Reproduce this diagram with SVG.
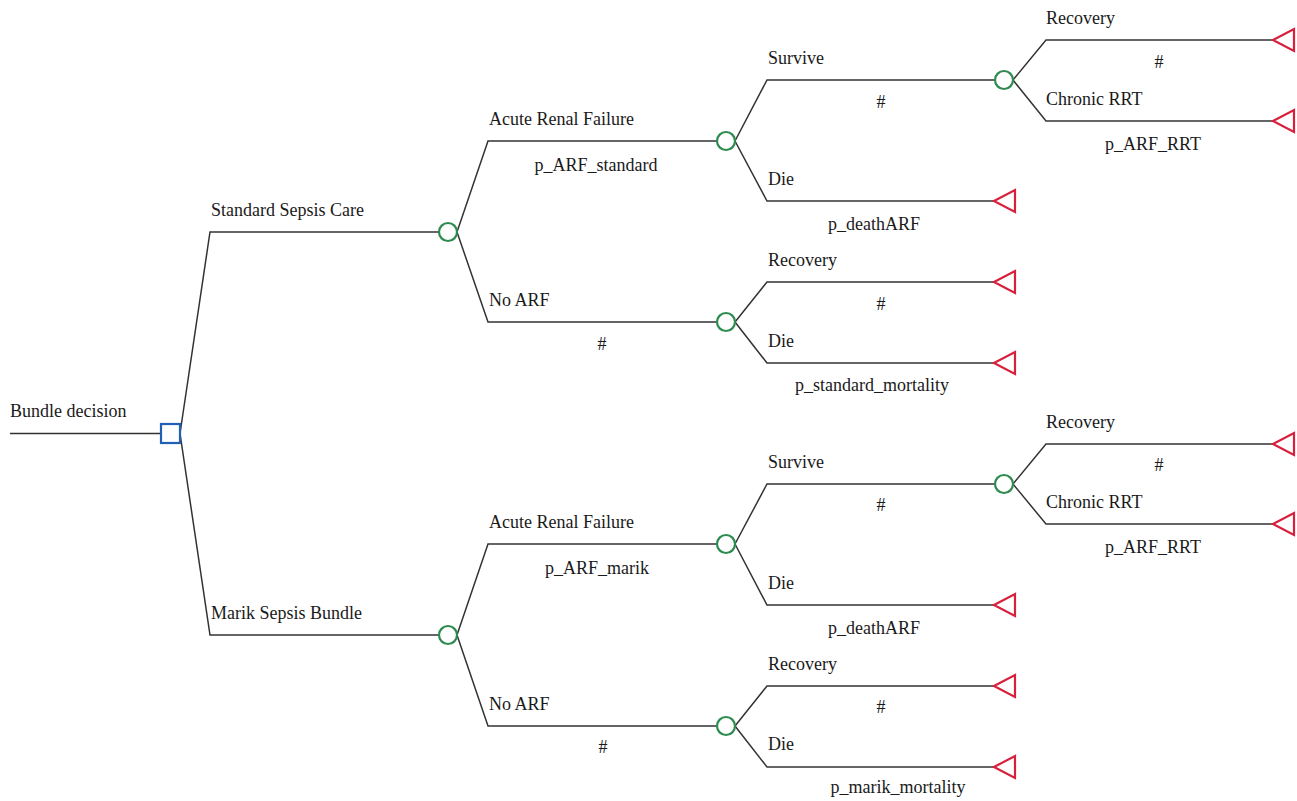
<svg xmlns="http://www.w3.org/2000/svg" width="1297" height="801" viewBox="0 0 1297 801">
<defs>
<style>
text{font-family:"Liberation Serif","Times New Roman",serif;font-size:18px;fill:#1a1a1a}
.m{text-anchor:middle}
.c{fill:none;stroke:#333;stroke-width:1.5}
.ch{fill:#fff;stroke:#2e8b4f;stroke-width:2.2}
.dc{fill:#fff;stroke:#1f5fb4;stroke-width:2.2}
.tm{fill:#fff;stroke:#d8203c;stroke-width:2.2}
</style>
<polygon id="tri" points="0,0 21,-11 21,11"/>
</defs>
<rect width="1297" height="801" fill="#fff"/>
<g id="connectors" class="c">
<path d="M10,433.5H161"/>
<path d="M180,433.5L210,232H439M180,433.5L210,635H439"/>
<path d="M457,232L488,141H717M457,232L488,322H717"/>
<path d="M735,141L767,80H995M735,141L767,201H994"/>
<path d="M735,322L767,282H994M735,322L767,363H994"/>
<path d="M1013,80L1046,40H1273M1013,80L1046,121H1273"/>
<path d="M457,635L488,544H717M457,635L488,726H717"/>
<path d="M735,544L767,484H995M735,544L767,605H994"/>
<path d="M735,726L767,686H994M735,726L767,767H994"/>
<path d="M1013,484L1046,444H1273M1013,484L1046,524H1273"/>
</g>
<g id="root"><text x="10" y="417">Bundle decision</text></g>
<g id="decision"><rect class="dc" x="161" y="424" width="19" height="19"/></g>
<g id="std"><text x="211" y="216">Standard Sepsis Care</text><circle class="ch" cx="448" cy="232" r="9"/></g>
<g id="std_arf"><text x="489" y="125">Acute Renal Failure</text><text class="m" x="596" y="171">p_ARF_standard</text><circle class="ch" cx="726" cy="141" r="9"/></g>
<g id="std_noarf"><text x="489" y="306">No ARF</text><text class="m" x="602" y="350">#</text><circle class="ch" cx="726" cy="322" r="9"/></g>
<g id="std_survive"><text x="768" y="64">Survive</text><text class="m" x="881" y="108">#</text><circle class="ch" cx="1004" cy="80" r="9"/></g>
<g id="std_arf_die"><text x="768" y="185">Die</text><text class="m" x="874" y="230">p_deathARF</text><use href="#tri" class="tm" x="994" y="201"/></g>
<g id="std_rec"><text x="768" y="266">Recovery</text><text class="m" x="881" y="310">#</text><use href="#tri" class="tm" x="994" y="282"/></g>
<g id="std_die"><text x="768" y="347">Die</text><text class="m" x="872" y="391">p_standard_mortality</text><use href="#tri" class="tm" x="994" y="363"/></g>
<g id="std_surv_rec"><text x="1046" y="24">Recovery</text><text class="m" x="1159" y="68">#</text><use href="#tri" class="tm" x="1273" y="40"/></g>
<g id="std_rrt"><text x="1046" y="105">Chronic RRT</text><text class="m" x="1153" y="150">p_ARF_RRT</text><use href="#tri" class="tm" x="1273" y="121"/></g>
<g id="marik"><text x="211" y="619">Marik Sepsis Bundle</text><circle class="ch" cx="448" cy="635" r="9"/></g>
<g id="mk_arf"><text x="489" y="528">Acute Renal Failure</text><text class="m" x="597" y="574">p_ARF_marik</text><circle class="ch" cx="726" cy="544" r="9"/></g>
<g id="mk_noarf"><text x="489" y="710">No ARF</text><text class="m" x="603" y="753">#</text><circle class="ch" cx="726" cy="726" r="9"/></g>
<g id="mk_survive"><text x="768" y="468">Survive</text><text class="m" x="881" y="511">#</text><circle class="ch" cx="1004" cy="484" r="9"/></g>
<g id="mk_arf_die"><text x="768" y="589">Die</text><text class="m" x="874" y="634">p_deathARF</text><use href="#tri" class="tm" x="994" y="605"/></g>
<g id="mk_rec"><text x="768" y="670">Recovery</text><text class="m" x="881" y="713">#</text><use href="#tri" class="tm" x="994" y="686"/></g>
<g id="mk_die"><text x="768" y="750">Die</text><text class="m" x="898" y="793">p_marik_mortality</text><use href="#tri" class="tm" x="994" y="767"/></g>
<g id="mk_surv_rec"><text x="1046" y="428">Recovery</text><text class="m" x="1159" y="471">#</text><use href="#tri" class="tm" x="1273" y="444"/></g>
<g id="mk_rrt"><text x="1046" y="508">Chronic RRT</text><text class="m" x="1153" y="553">p_ARF_RRT</text><use href="#tri" class="tm" x="1273" y="524"/></g>
</svg>
